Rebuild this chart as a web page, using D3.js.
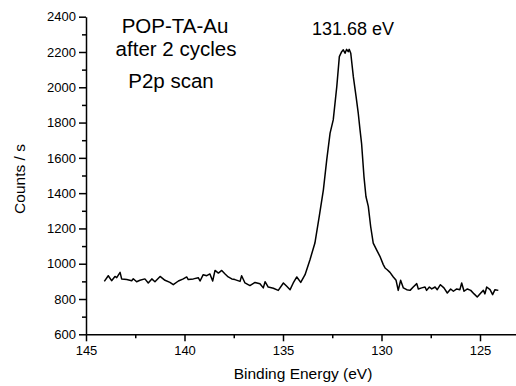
<!DOCTYPE html>
<html>
<head>
<meta charset="utf-8">
<script src="https://cdn.jsdelivr.net/npm/d3@7"></script>
<style>
  body { margin: 0; background: #fff; }
  svg { display: block; font-family: "Liberation Sans", Arial, sans-serif; }
  .axis path, .axis line { stroke: #000; stroke-width: 1.5; }
  .axis text { font-size: 13px; fill: #000; }
</style>
</head>
<body>
<div id="chart"></div>
<script>
// Binding energy (eV)
const energy = [
  144.07, 143.87, 143.70, 143.53, 143.44, 143.27, 143.19, 142.93, 142.68, 142.60,
  142.43, 142.26, 142.01, 141.84, 141.66, 141.50, 141.24, 140.99, 140.74, 140.57,
  140.31, 140.06, 139.89, 139.81, 139.55, 139.30, 139.21, 139.05, 138.87, 138.71,
  138.57, 138.45, 138.28, 138.11, 137.94, 137.78, 137.60, 137.44, 137.18, 137.10,
  136.93, 136.68, 136.42, 136.17, 136.00, 135.91, 135.75, 135.49, 135.24, 134.98,
  134.81, 134.64, 134.48, 134.30, 134.10, 133.88, 133.63, 133.38, 133.16, 132.95,
  132.78, 132.61, 132.45, 132.27, 132.14, 132.02, 131.94, 131.85, 131.77, 131.69,
  131.64, 131.56, 131.43, 131.29, 131.18, 131.09, 131.01, 130.89, 130.79, 130.67,
  130.55, 130.42, 130.21, 130.08, 129.91, 129.82, 129.71, 129.57, 129.40, 129.26,
  129.15, 129.03, 128.89, 128.72, 128.55, 128.39, 128.21, 128.13, 127.96, 127.79,
  127.71, 127.57, 127.45, 127.28, 127.17, 127.01, 126.83, 126.66, 126.49, 126.35,
  126.18, 126.02, 125.93, 125.81, 125.64, 125.47, 125.30, 125.14, 124.96, 124.83,
  124.75, 124.66, 124.49, 124.36, 124.24, 124.07
];
// Counts / s
const counts = [
  900, 932, 904, 928, 921, 951, 914, 910, 904, 915,
  898, 906, 914, 891, 914, 898, 928, 906, 894, 881,
  902, 914, 925, 910, 914, 921, 902, 938, 932, 942,
  902, 962, 947, 962, 942, 925, 914, 910, 900, 932,
  891, 876, 894, 887, 863, 898, 868, 861, 849, 891,
  872, 853, 891, 925, 894, 938, 1023, 1117, 1268, 1419,
  1589, 1740, 1815, 2004, 2174, 2202, 2212, 2193, 2215, 2202,
  2215, 2193, 2060, 1947, 1853, 1759, 1680, 1494, 1381, 1325,
  1211, 1117, 1070, 1042, 995, 976, 966, 951, 925, 906,
  849, 906, 863, 853, 849, 868, 887, 857, 863, 868,
  849, 868, 857, 868, 853, 881, 863, 834, 857, 844,
  857, 853, 891, 844, 857, 849, 829, 811, 834, 849,
  829, 868, 853, 825, 853, 849
];
const xTicks = [145, 140, 135, 130, 125];
const xMinorTicks = [142.5, 137.5, 132.5, 127.5];
const yTicks = [600, 800, 1000, 1200, 1400, 1600, 1800, 2000, 2200, 2400];
const yMinorTicks = [700, 900, 1100, 1300, 1500, 1700, 1900, 2100, 2300];
const titleLines = ["POP-TA-Au", "after 2 cycles", "P2p scan"];
const peakLabel = "131.68 eV";

const width = 516, height = 386;
const data = energy.map((e, i) => ({ e: e, c: counts[i] }));

const svg = d3.select("#chart").append("svg")
  .attr("width", width)
  .attr("height", height);

// scales (energy axis runs high to low)
const x = d3.scaleLinear().domain([145, 123]).range([86, 519.4]);
const y = d3.scaleLinear().domain([600, 2400]).range([334.3, 16.7]);

// x axis, major + minor ticks
svg.append("g")
  .attr("class", "axis")
  .attr("transform", `translate(0,${y(600)})`)
  .call(d3.axisBottom(x).tickValues(xTicks).tickSize(7).tickSizeOuter(0).tickPadding(4).tickFormat(d3.format("d")));
svg.append("g")
  .attr("class", "axis")
  .attr("transform", `translate(0,${y(600)})`)
  .call(d3.axisBottom(x).tickValues(xMinorTicks).tickSize(4).tickSizeOuter(0).tickFormat(""))
  .select(".domain").remove();

// y axis, major + minor ticks
svg.append("g")
  .attr("class", "axis")
  .attr("transform", `translate(${x(145)},0)`)
  .call(d3.axisLeft(y).tickValues(yTicks).tickSize(7).tickSizeOuter(0).tickPadding(3).tickFormat(d3.format("d")));
svg.append("g")
  .attr("class", "axis")
  .attr("transform", `translate(${x(145)},0)`)
  .call(d3.axisLeft(y).tickValues(yMinorTicks).tickSize(4).tickSizeOuter(0).tickFormat(""))
  .select(".domain").remove();

// spectrum
svg.append("path")
  .datum(data)
  .attr("fill", "none")
  .attr("stroke", "#000")
  .attr("stroke-width", 1.5)
  .attr("stroke-linejoin", "round")
  .attr("d", d3.line().x(d => x(d.e)).y(d => y(d.c)));

// axis labels
svg.append("text")
  .attr("x", 303)
  .attr("y", 379)
  .attr("text-anchor", "middle")
  .style("font-size", "15.5px")
  .text("Binding Energy (eV)");

svg.append("text")
  .attr("transform", "translate(25,179) rotate(-90)")
  .attr("text-anchor", "middle")
  .style("font-size", "15.5px")
  .text("Counts / s");

// annotations
const titleY = [33.3, 56, 87.5];
const titleX = [175, 176, 171];
titleLines.forEach((t, i) => {
  svg.append("text")
    .attr("x", titleX[i])
    .attr("y", titleY[i])
    .attr("text-anchor", "middle")
    .style("font-size", "20.5px")
    .text(t);
});

svg.append("text")
  .attr("x", 353)
  .attr("y", 35)
  .attr("text-anchor", "middle")
  .style("font-size", "18px")
  .text(peakLabel);
</script>
</body>
</html>
